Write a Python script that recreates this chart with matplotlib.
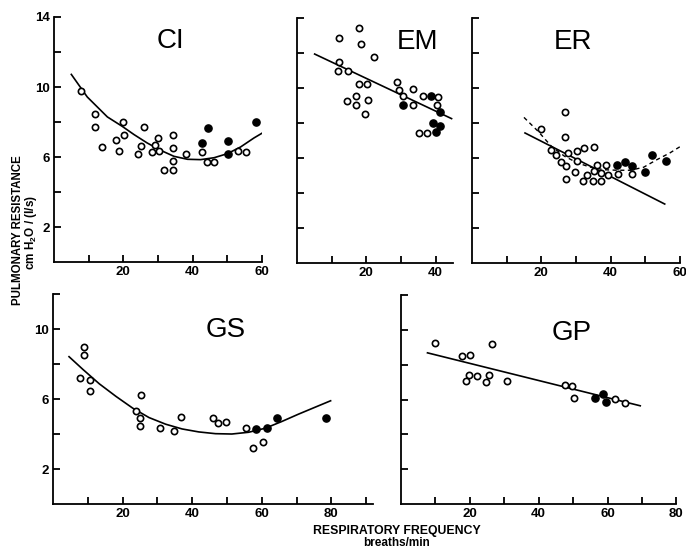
import matplotlib
matplotlib.use('Agg')
import matplotlib.pyplot as plt
from matplotlib import rcParams

# Helvetica-like look of the original figure
rcParams['font.family'] = ['Liberation Sans', 'DejaVu Sans']
rcParams['mathtext.fontset'] = 'custom'
rcParams['mathtext.rm'] = 'Liberation Sans'
rcParams['mathtext.bf'] = 'Liberation Sans:bold'

# ---------------- data ----------------
# CI
ci_open_f = [7.7, 11.7, 11.7, 13.9, 17.9, 18.7, 19.8, 20.1, 24.3, 25.0, 25.9, 28.2, 29.2,
             29.9, 30.2, 31.6, 34.2, 34.2, 34.2, 34.2, 38.0, 42.8, 44.1, 46.2, 53.1, 55.5]
ci_open_r = [9.8, 8.46, 7.7, 6.55, 7.0, 6.34, 7.98, 7.26, 6.2, 6.63, 7.7, 6.29, 6.69,
             7.07, 6.32, 5.26, 7.26, 6.5, 5.75, 5.28, 6.15, 6.29, 5.73, 5.73, 6.32, 6.29]
ci_fill_f = [42.6, 44.5, 50.1, 50.1, 58.2]
ci_fill_r = [6.8, 7.66, 6.93, 6.17, 7.98]
ci_curve_f = [5.0, 9.6, 15.4, 19.7, 23.1, 26.9, 30.8, 34.6, 38.5, 42.3, 46.2, 50.0, 53.8, 57.7, 60.6]
ci_curve_r = [10.72, 9.43, 8.29, 7.75, 7.28, 6.8, 6.38, 6.04, 5.87, 5.85, 5.96, 6.19, 6.57, 7.09, 7.43]

# EM
em_open_f = [18.0, 12.2, 18.6, 22.1, 12.1, 11.8, 14.8, 17.8, 20.3, 28.8, 29.4, 30.7, 33.6,
             36.5, 40.6, 40.4, 14.3, 17.1, 17.0, 20.6, 19.7, 33.6, 35.2, 37.6]
em_open_r = [13.43, 12.86, 12.51, 11.75, 11.47, 10.97, 10.95, 10.25, 10.25, 10.34, 9.9, 9.56, 9.94,
             9.56, 9.5, 9.03, 9.28, 9.52, 9.05, 9.33, 8.53, 9.01, 7.43, 7.43]
em_fill_f = [30.7, 38.6, 41.3, 39.3, 41.4, 40.2]
em_fill_r = [9.01, 9.54, 8.61, 8.0, 7.81, 7.47]
em_line_f = [5.1, 44.6]
em_line_r = [11.94, 8.25]

# ER
er_open_f = [26.8, 20.0, 26.9, 22.7, 24.2, 27.6, 30.4, 32.3, 35.1, 25.8, 27.1, 30.2, 27.1,
             29.8, 32.0, 33.1, 34.8, 37.1, 35.2, 36.2, 37.1, 38.6, 39.2, 42.1, 46.3]
er_open_r = [8.63, 7.66, 7.22, 6.48, 6.15, 6.27, 6.42, 6.57, 6.61, 5.77, 5.52, 5.81, 4.82,
             5.22, 4.67, 5.01, 4.67, 4.67, 5.24, 5.58, 5.16, 5.58, 5.01, 5.07, 5.07]
er_fill_f = [41.8, 44.2, 46.3, 50.0, 52.0, 56.0]
er_fill_r = [5.58, 5.77, 5.52, 5.22, 6.17, 5.81]
er_line_f = [15.3, 55.6]
er_line_r = [7.43, 3.37]
er_dash_f = [15.0, 19.1, 22.9, 26.7, 30.5, 34.3, 38.1, 41.9, 45.7, 49.5, 53.3, 57.1, 60.2]
er_dash_r = [8.32, 7.52, 6.67, 6.1, 5.71, 5.47, 5.33, 5.3, 5.3, 5.47, 5.9, 6.29, 6.67]

# GS
gs_open_f = [8.8, 8.8, 7.7, 10.7, 10.6, 25.4, 23.8, 24.9, 24.9, 30.7, 34.7, 36.7, 46.1,
             47.5, 49.6, 55.4, 57.5, 60.3]
gs_open_r = [8.98, 8.52, 7.21, 7.08, 6.48, 6.25, 5.33, 4.94, 4.44, 4.35, 4.19, 4.98, 4.94,
             4.65, 4.71, 4.33, 3.19, 3.52]
gs_fill_f = [58.4, 61.6, 64.4, 78.4]
gs_fill_r = [4.27, 4.37, 4.94, 4.94]
gs_curve_f = [4.6, 8.6, 13.3, 18.1, 22.9, 27.6, 32.4, 37.1, 41.9, 46.7, 51.4, 56.2, 61.0,
              65.7, 70.5, 75.2, 79.8]
gs_curve_r = [8.42, 7.69, 6.87, 6.15, 5.48, 4.94, 4.56, 4.29, 4.12, 4.02, 4.0, 4.1, 4.33,
              4.71, 5.13, 5.52, 5.9]

# GP
gp_open_f = [9.9, 26.4, 17.7, 20.0, 19.7, 22.1, 25.5, 18.8, 24.7, 30.9, 47.7, 49.6, 50.3, 62.2, 65.0]
gp_open_r = [9.26, 9.16, 8.49, 8.55, 7.42, 7.33, 7.42, 7.04, 6.98, 7.04, 6.81, 6.75, 6.11, 6.04, 5.78]
gp_fill_f = [56.5, 58.6, 59.5]
gp_fill_r = [6.07, 6.32, 5.84]
gp_line_f = [7.7, 69.5]
gp_line_r = [8.68, 5.64]

fig = plt.figure(figsize=(6.86, 5.5), dpi=100)


def setup_panel(rect, xmax, ymax, xlabels, ylabels, title, title_xy):
    ax = fig.add_axes(rect)
    ax.set_xlim(0, xmax)
    ax.set_ylim(0, ymax)
    for s in ['top', 'right']:
        ax.spines[s].set_visible(False)
    for s in ['left', 'bottom']:
        ax.spines[s].set_linewidth(1.3)
    xt = list(range(10, int(xmax) + 1, 10))
    yt = list(range(2, int(ymax) + 1, 2))
    ax.set_xticks(xt)
    ax.set_xticklabels([str(t) if t in xlabels else '' for t in xt])
    ax.set_yticks(yt)
    ax.set_yticklabels([str(t) if t in ylabels else '' for t in yt])
    ax.tick_params(direction='in', length=5, width=1.3, labelsize=9.5, pad=3)
    for lab in ax.get_xticklabels() + ax.get_yticklabels():
        lab.set_fontweight('bold')
    ax.text(title_xy[0], title_xy[1], title, transform=ax.transAxes,
            ha='center', va='center', fontsize=20)
    return ax


def points(ax, of, orr, ff, fr):
    ax.plot(of, orr, 'o', ms=4.5, mfc='white', mec='black', mew=1.2, zorder=3)
    ax.plot(ff, fr, 'o', ms=5.2, mfc='black', mec='black', zorder=3)


lw = 1.2

ax_ci = setup_panel([0.0787, 0.5236, 0.3032, 0.4455], 60, 14, [20, 40, 60], [2, 6, 10, 14],
                    'CI', (0.56, 0.90))
ax_ci.plot(ci_curve_f, ci_curve_r, color='black', lw=lw)
points(ax_ci, ci_open_f, ci_open_r, ci_fill_f, ci_fill_r)

ax_em = setup_panel([0.4329, 0.5218, 0.2274, 0.4455], 45, 14, [20, 40], [],
                    'EM', (0.77, 0.90))
ax_em.plot(em_line_f, em_line_r, color='black', lw=lw)
points(ax_em, em_open_f, em_open_r, em_fill_f, em_fill_r)

ax_er = setup_panel([0.6880, 0.5218, 0.3032, 0.4455], 60, 14, [20, 40, 60], [],
                    'ER', (0.485, 0.90))
ax_er.plot(er_line_f, er_line_r, color='black', lw=lw)
ax_er.plot(er_dash_f, er_dash_r, color='black', lw=1.0, ls=(0, (3, 2.5)))
points(ax_er, er_open_f, er_open_r, er_fill_f, er_fill_r)

ax_gs = setup_panel([0.0773, 0.0836, 0.4665, 0.3818], 92, 12, [20, 40, 60, 80], [2, 6, 10],
                    'GS', (0.54, 0.83))
ax_gs.plot(gs_curve_f, gs_curve_r, color='black', lw=lw)
points(ax_gs, gs_open_f, gs_open_r, gs_fill_f, gs_fill_r)

ax_gp = setup_panel([0.5845, 0.0836, 0.4015, 0.3800], 80, 12, [20, 40, 60, 80], [],
                    'GP', (0.62, 0.82))
ax_gp.plot(gp_line_f, gp_line_r, color='black', lw=lw)
points(ax_gp, gp_open_f, gp_open_r, gp_fill_f, gp_fill_r)

# shared axis titles
fig.text(18 / 686, 1 - 230 / 550, 'PULMONARY RESISTANCE', rotation=90, ha='center', va='center',
         fontsize=8.3, fontweight='bold')
fig.text(31 / 686, 1 - 232 / 550, r'cm H$_\mathbf{2}$O / (l/s)', rotation=90, ha='center', va='center',
         fontsize=8.5, fontweight='bold')
fig.text(397 / 686, 1 - 531 / 550, 'RESPIRATORY FREQUENCY', ha='center', va='center',
         fontsize=8.8, fontweight='bold')
fig.text(397 / 686, 1 - 543 / 550, 'breaths/min', ha='center', va='center',
         fontsize=8.5, fontweight='bold')

plt.savefig('out.png', dpi=100)
